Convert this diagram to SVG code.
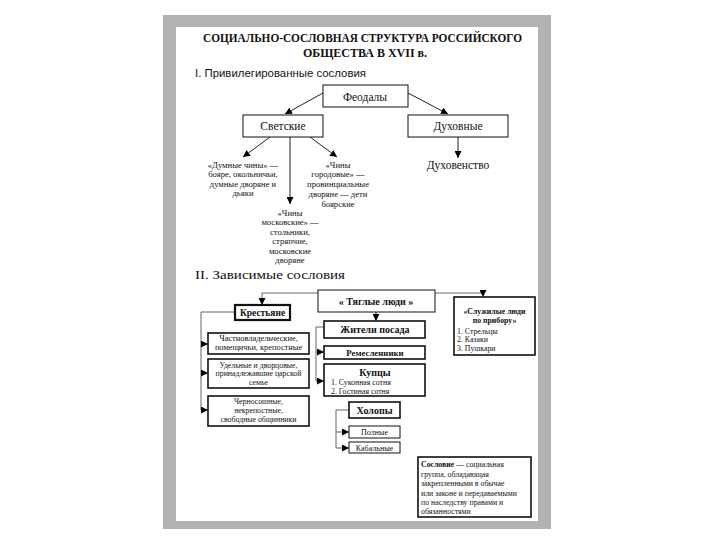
<svg xmlns="http://www.w3.org/2000/svg" width="720" height="540" viewBox="0 0 720 540">
<defs>
<marker id="ah" markerUnits="userSpaceOnUse" markerWidth="8" markerHeight="7" refX="7" refY="3.5" orient="auto">
<path d="M0,0 L7,3.5 L0,7 z" fill="#000"/>
</marker>
<style>
text{font-family:"Liberation Serif","Times New Roman",serif;fill:#111}
.c{text-anchor:middle}
.b{font-weight:bold}
.box{fill:#fff;stroke:#111;stroke-width:1}
.bx2{fill:#fff;stroke:#111;stroke-width:1.6}
.bx3{fill:#fff;stroke:#111;stroke-width:2.2}
.ln{fill:none;stroke:#222;stroke-width:1}
.lg{fill:none;stroke:#666;stroke-width:1}
.s10{font-size:10px}
.t9{font-size:8.6px}
.s9{font-size:8.4px}
.s8{font-size:7.8px}
.s11{font-size:11.5px}
</style>
</defs>
<rect x="0" y="0" width="720" height="540" fill="#fff"/>
<rect x="163" y="15" width="388" height="514" fill="#b3b3b3"/>
<rect x="176" y="27" width="362" height="494" fill="#fff"/>

<g id="title">
<text class="c b" x="362.5" y="42" font-size="12" textLength="319" lengthAdjust="spacingAndGlyphs">СОЦИАЛЬНО-СОСЛОВНАЯ СТРУКТУРА РОССИЙСКОГО</text>
<text class="c b" x="365" y="57" font-size="12">ОБЩЕСТВА В XVII в.</text>
</g>
<g id="sec1"><text x="195" y="77" font-size="11.5" style="font-family:'Liberation Sans',Arial,sans-serif" textLength="171" lengthAdjust="spacingAndGlyphs">I. Привилегированные сословия</text></g>
<g id="sec2"><text x="195" y="279" font-size="11.5" textLength="150" lengthAdjust="spacingAndGlyphs">II. Зависимые сословия</text></g>

<g id="connectors">
<line class="ln" x1="323" y1="93" x2="285" y2="114" marker-end="url(#ah)"/>
<line class="ln" x1="408" y1="93" x2="448" y2="114" marker-end="url(#ah)"/>
<line class="ln" x1="270" y1="137" x2="243" y2="157" marker-end="url(#ah)"/>
<line class="ln" x1="290" y1="137" x2="290" y2="204" stroke-width="1.6" marker-end="url(#ah)"/>
<line class="ln" x1="310" y1="137" x2="337" y2="157" marker-end="url(#ah)"/>
<line class="ln" x1="458" y1="137" x2="458" y2="158" marker-end="url(#ah)"/>
<polyline class="lg" points="318,293 262,293 262,305" marker-end="url(#ah)"/>
<polyline class="lg" points="435,293 483,293 483,297" marker-end="url(#ah)"/>
<line class="ln" x1="376" y1="312" x2="376" y2="321" marker-end="url(#ah)"/>
<polyline class="lg" points="235,312 201,312 201,410"/>
<line class="lg" x1="201" y1="344" x2="208" y2="344" marker-end="url(#ah)"/>
<line class="lg" x1="201" y1="373" x2="208" y2="373" marker-end="url(#ah)"/>
<line class="lg" x1="201" y1="410" x2="208" y2="410" marker-end="url(#ah)"/>
<polyline class="lg" points="324,327 316,327 316,381"/>
<line class="lg" x1="316" y1="352" x2="324" y2="352" marker-end="url(#ah)"/>
<line class="lg" x1="316" y1="381" x2="324" y2="381" marker-end="url(#ah)"/>
<polyline class="lg" points="349,410 336,410 336,448"/>
<line class="lg" x1="336" y1="432" x2="349" y2="432" marker-end="url(#ah)"/>
<line class="lg" x1="336" y1="448" x2="349" y2="448" marker-end="url(#ah)"/>
</g>

<g id="feodaly"><rect class="box" x="323" y="85" width="85" height="22"/><text class="c s11" x="365" y="101">Феодалы</text></g>
<g id="svetskie"><rect class="box" x="243" y="115" width="80" height="22"/><text class="c s11" x="283" y="130">Светские</text></g>
<g id="dukhovnye"><rect class="box" x="408" y="115" width="100" height="22"/><text class="c s11" x="458" y="130">Духовные</text></g>
<g id="dukhovenstvo"><text class="c s11" x="458" y="169">Духовенство</text></g>

<g id="dumnye" class="t9">
<text class="c" x="243" y="167.5">«Думные чины» —</text>
<text class="c" x="243" y="177">бояре, окольничьи,</text>
<text class="c" x="243" y="186.5">думные дворяне и</text>
<text class="c" x="243" y="196">дьяки</text>
</g>
<g id="gorodovye" class="t9">
<text class="c" x="338" y="167.5">«Чины</text>
<text class="c" x="338" y="177">городовые» —</text>
<text class="c" x="338" y="187">провинциальные</text>
<text class="c" x="338" y="197">дворяне — дети</text>
<text class="c" x="338" y="207">боярские</text>
</g>
<g id="moskovskie" class="t9">
<text class="c" x="290" y="215.5">«Чины</text>
<text class="c" x="290" y="225">московские» —</text>
<text class="c" x="290" y="234.5">стольники,</text>
<text class="c" x="290" y="244">стряпчие,</text>
<text class="c" x="290" y="253.5">московские</text>
<text class="c" x="290" y="263">дворяне</text>
</g>

<g id="tyaglye"><rect class="box" x="318" y="290" width="117" height="22"/><text class="c b s10" x="376" y="305">« Тяглые люди »</text></g>
<g id="krestyane"><rect class="bx3" x="235" y="305" width="55" height="15"/><text class="c b" font-size="9.5" x="262.5" y="316">Крестьяне</text></g>
<g id="chastnovl"><rect class="bx2" x="208" y="333" width="101" height="21"/>
<text class="c s9" x="258.5" y="341">Частновладельческие,</text>
<text class="c s9" x="258.5" y="350">помещичьи, крепостные</text></g>
<g id="udelnye"><rect class="bx2" x="208" y="359" width="101" height="29"/>
<text class="c s8" x="258.5" y="367.5">Удельные и дворцовые,</text>
<text class="c s8" x="258.5" y="376">принадлежавшие царской</text>
<text class="c s8" x="258.5" y="384.5">семье</text></g>
<g id="chernososhnye"><rect class="bx2" x="208" y="396" width="101" height="30"/>
<text class="c s8" x="258.5" y="404">Черносошные,</text>
<text class="c s8" x="258.5" y="413">некрепостные,</text>
<text class="c s8" x="258.5" y="422">свободные общинники</text></g>

<g id="zhiteli"><rect class="bx2" x="324" y="321" width="101" height="17"/><text class="c b s10" x="375" y="333">Жители посада</text></g>
<g id="remeslenniki"><rect class="bx2" x="324" y="346" width="101" height="13"/><text class="c b" font-size="8.8" x="375" y="355.5">Ремесленники</text></g>
<g id="kuptsy"><rect class="bx2" x="324" y="364" width="101" height="32"/>
<text class="c b s10" x="375" y="376">Купцы</text>
<text class="s8" x="331" y="385">1. Суконная сотня</text>
<text class="s8" x="331" y="394">2. Гостиная сотня</text></g>
<g id="sluzhilye"><rect class="bx2" x="454" y="297" width="81" height="58"/>
<text class="c b s8" x="494.5" y="314">«Служилые люди</text>
<text class="c b s8" x="494.5" y="323">по прибору»</text>
<text class="s8" x="457" y="333.5">1. Стрельцы</text>
<text class="s8" x="457" y="342">2. Казаки</text>
<text class="s8" x="457" y="350.5">3. Пушкари</text></g>
<g id="kholopy"><rect class="bx2" x="349" y="402" width="51" height="16"/><text class="c b s10" x="374.5" y="414">Холопы</text></g>
<g id="polnye"><rect class="box" x="349" y="426" width="51" height="12"/><text class="c" font-size="8" x="374.5" y="435">Полные</text></g>
<g id="kabalnye"><rect class="box" x="349" y="442" width="51" height="11"/><text class="c" font-size="8" x="374.5" y="450.5">Кабальные</text></g>

<g id="definition"><rect class="bx2" x="418" y="457" width="113" height="60"/>
<text class="s8" x="421" y="467"><tspan class="b">Сословие</tspan> — социальная</text>
<text class="s8" x="421" y="476.5">группа, обладающая</text>
<text class="s8" x="421" y="486">закрепленными в обычае</text>
<text class="s8" x="421" y="495.5">или законе и передаваемыми</text>
<text class="s8" x="421" y="505">по наследству правами и</text>
<text class="s8" x="421" y="514">обязанностями</text></g>
</svg>
